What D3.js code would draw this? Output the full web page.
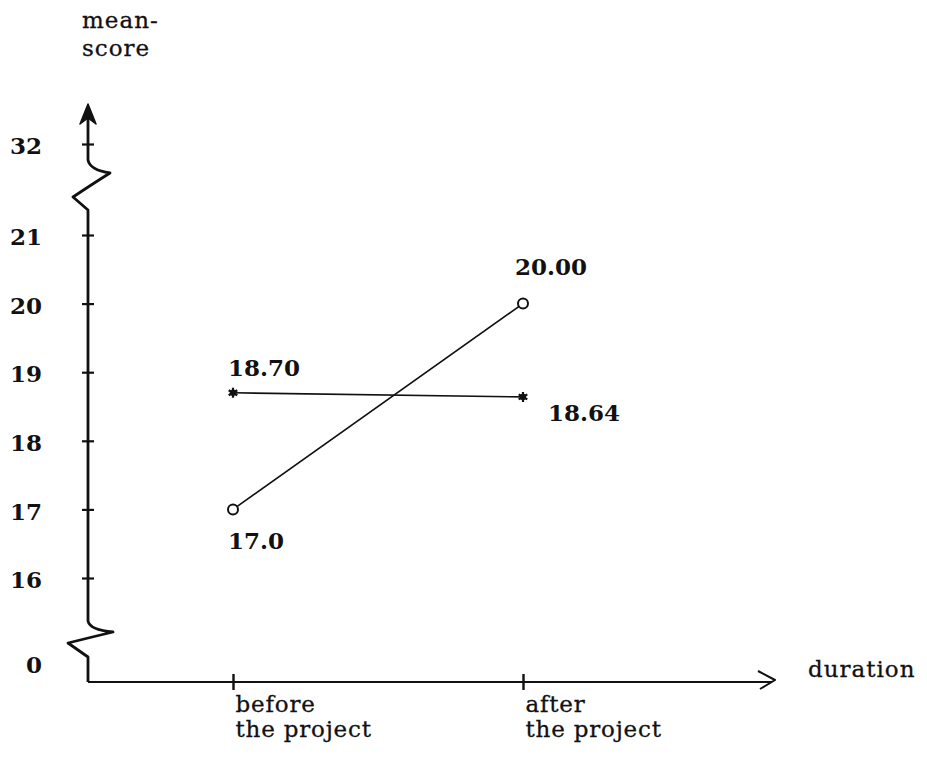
<!DOCTYPE html>
<html><head><meta charset="utf-8">
<script src="https://cdn.jsdelivr.net/npm/d3@7"></script>
<style>html,body{margin:0;padding:0;background:#fff}</style>
</head><body><svg id="c" width="927" height="778"></svg>
<script>
// ---- data ----
const categories = ["before the project", "after the project"];
const categoryLines = [["before", "the project"], ["after", "the project"]];
const circleSeries = [17.0, 20.00];
const circleLabels = ["17.0", "20.00"];
const starSeries = [18.70, 18.64];
const starLabels = ["18.70", "18.64"];
const yTickValues = [0, 16, 17, 18, 19, 20, 21, 32];
const yTickLabels = ["0", "16", "17", "18", "19", "20", "21", "32"];
const yAxisTitle = ["mean-", "score"];
const xAxisTitle = "duration";

// ---- layout ----
const axisX = 88, axisY = 682;
const ink = "#111";
const serif = "'DejaVu Serif', 'Liberation Serif', serif";
const svg = d3.select("#c");
svg.append("rect").attr("width", 927).attr("height", 778).attr("fill", "#fff");

// broken value scale (0 | 16..21 | 32)
const y = d3.scaleLinear().domain([0, 16, 21, 32]).range([663, 578, 235, 144]);
const x = d3.scalePoint().domain(categories).range([233, 523]);

// ---- y axis (broken line with arrow) ----
const p = d3.path();
p.moveTo(axisX, axisY);
p.lineTo(axisX, 657);
p.lineTo(68, 643);
p.quadraticCurveTo(92, 637, 113, 632);
p.quadraticCurveTo(90, 630, axisX, 621);
p.lineTo(axisX, 210);
p.lineTo(73, 197);
p.quadraticCurveTo(94, 183, 110, 173);
p.quadraticCurveTo(90, 170, axisX, 160);
p.lineTo(axisX, 110);
svg.append("path").attr("d", p.toString()).attr("fill", "none")
  .attr("stroke", ink).attr("stroke-width", 2.8).attr("stroke-linejoin", "round");
svg.append("path").attr("d", `M${axisX-8},124 L${axisX},104 L${axisX+8},124 L${axisX},118 Z`)
  .attr("fill", ink).attr("stroke", ink).attr("stroke-width", 1.5).attr("stroke-linejoin", "round");

const yAxis = d3.axisLeft(y).tickValues(yTickValues)
  .tickFormat((d, i) => yTickLabels[i]).tickSize(6).tickPadding(40);
const gy = svg.append("g").attr("transform", `translate(${axisX},0)`).call(yAxis);
gy.select(".domain").remove();
gy.selectAll(".tick line").attr("x1", -6).attr("x2", 6)
  .attr("stroke", ink).attr("stroke-width", 2.2)
  .attr("display", d => d === 0 ? "none" : null);
gy.selectAll(".tick text").attr("fill", ink).attr("font-family", serif)
  .attr("font-size", 23).attr("font-weight", "bold").attr("dy", "0.42em");

// ---- x axis with arrow ----
svg.append("line").attr("x1", axisX).attr("x2", 772).attr("y1", axisY).attr("y2", axisY)
  .attr("stroke", ink).attr("stroke-width", 2);
svg.append("path").attr("d", "M758,671 L775,680 L760,689").attr("fill", "none")
  .attr("stroke", ink).attr("stroke-width", 2).attr("stroke-linejoin", "round");

const xAxis = d3.axisBottom(x).tickSize(8).tickFormat("");
const gx = svg.append("g").attr("transform", `translate(0,${axisY})`).call(xAxis);
gx.select(".domain").remove();
gx.selectAll(".tick line").attr("y1", -8).attr("y2", 8).attr("stroke", ink).attr("stroke-width", 2.4);
gx.selectAll(".tick").each(function (d, i) {
  const t = d3.select(this).append("text").attr("text-anchor", "start")
    .attr("fill", ink).attr("font-family", serif).attr("font-size", 23)
    .attr("letter-spacing", 0.8).attr("stroke", ink).attr("stroke-width", 0.3);
  categoryLines[i].forEach((ln, j) => {
    t.append("tspan").attr("x", 2).attr("y", 30 + j * 25).text(ln);
  });
});

// titles
const yt = svg.append("text").attr("font-family", serif).attr("font-size", 23)
  .attr("fill", ink).attr("letter-spacing", 1).attr("stroke", ink).attr("stroke-width", 0.3);
yAxisTitle.forEach((ln, j) => yt.append("tspan").attr("x", 82).attr("y", 28 + j * 28).text(ln));
svg.append("text").attr("x", 808).attr("y", 677).attr("font-family", serif)
  .attr("font-size", 23).attr("fill", ink).attr("letter-spacing", 1)
  .attr("stroke", ink).attr("stroke-width", 0.3).text(xAxisTitle);

// ---- series ----
const line = d3.line().x((d, i) => x(categories[i])).y(d => y(d));
svg.append("path").attr("d", line(circleSeries)).attr("fill", "none")
  .attr("stroke", ink).attr("stroke-width", 1.6);
svg.append("path").attr("d", line(starSeries)).attr("fill", "none")
  .attr("stroke", ink).attr("stroke-width", 1.6);

svg.selectAll(".circ").data(circleSeries).enter().append("circle")
  .attr("cx", (d, i) => x(categories[i])).attr("cy", d => y(d)).attr("r", 5)
  .attr("fill", "#fff").attr("stroke", ink).attr("stroke-width", 2);

const star = d3.symbol().type(d3.symbolAsterisk).size(70);
const starG = svg.selectAll(".star").data(starSeries).enter().append("g")
  .attr("transform", (d, i) => `translate(${x(categories[i])},${y(d)})`);
starG.append("path").attr("d", star).attr("fill", "none")
  .attr("stroke", ink).attr("stroke-width", 2.2);
starG.append("circle").attr("r", 3.2).attr("fill", ink);

// value labels
const circleOffsets = [[-5, 40], [-8, -29]];
const starOffsets = [[-5, -17], [25, 24]];
const lbl = (vals, labels, offs) => vals.forEach((v, i) => {
  svg.append("text").attr("x", x(categories[i]) + offs[i][0]).attr("y", y(v) + offs[i][1])
    .attr("font-family", serif).attr("font-size", 23).attr("font-weight", "bold")
    .attr("fill", ink).text(labels[i]);
});
lbl(circleSeries, circleLabels, circleOffsets);
lbl(starSeries, starLabels, starOffsets);
</script>
</body></html>
